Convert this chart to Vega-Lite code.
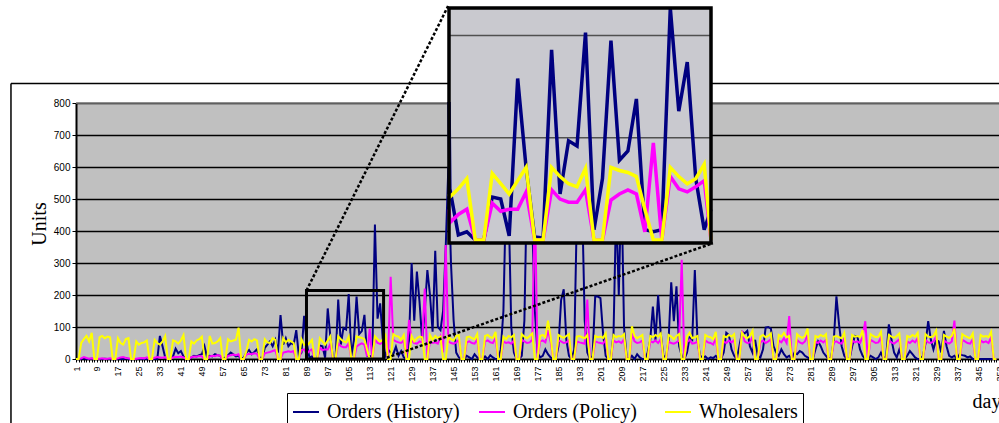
{
"$schema":"https://vega.github.io/schema/vega-lite/v6.json",
"width":923,"height":256,
"autosize":{"type":"none"},
"padding":{"left":76,"top":103,"right":0,"bottom":64},
"background":"white",
"config":{"view":{"fill":"#c0c0c0","stroke":null},
 "legend":{"labelFont":"Liberation Serif","labelFontSize":20,"labelColor":"black"},
 "axisX":{"labelExpr":"(datum.value - 1) % 8 === 0 ? datum.label : ''","labelAngle":-90,"labelFontSize":9,"labelFont":"Liberation Sans","labelColor":"black","labelPadding":4,"labelOverlap":false,"labelBound":false,"labelFlush":false,"tickSize":3,"tickColor":"black","tickWidth":1,"domainColor":"black","domainWidth":1.5,"grid":false,"titleFont":"Liberation Serif","titleFontSize":20,"titleFontWeight":"normal","titleColor":"black","titleX":896,"titleY":48,"titleAlign":"left","titleBaseline":"alphabetic","titleAngle":0},
 "axisY":{"labelFontSize":10,"labelFont":"Liberation Sans","labelColor":"black","labelPadding":2,"labelOverlap":false,"tickSize":4,"tickColor":"black","domainColor":"black","domainWidth":2,"grid":true,"gridColor":"black","gridWidth":1.3,"titleFont":"Liberation Serif","titleFontSize":20,"titleFontWeight":"normal","titleColor":"black","titleX":-36.5,"titleY":120.5,"titleAngle":-90,"titleAlign":"center","titleBaseline":"middle"}},
"datasets":{"days":[
{"d":1,"h":0,"p":0,"w":0},{"d":2,"h":0,"p":0,"w":0},{"d":3,"h":0,"p":2,"w":50},{"d":4,"h":2,"p":6,"w":62},{"d":5,"h":0,"p":3,"w":72},{"d":6,"h":0,"p":1,"w":55},{"d":7,"h":1,"p":2,"w":82},{"d":8,"h":0,"p":0,"w":0},{"d":9,"h":0,"p":0,"w":0},{"d":10,"h":0,"p":1,"w":68},
{"d":11,"h":0,"p":2,"w":72},{"d":12,"h":1,"p":0,"w":65},{"d":13,"h":0,"p":1,"w":70},{"d":14,"h":0,"p":2,"w":68},{"d":15,"h":0,"p":0,"w":0},{"d":16,"h":0,"p":0,"w":0},{"d":17,"h":0,"p":2,"w":65},{"d":18,"h":0,"p":5,"w":50},{"d":19,"h":0,"p":6,"w":45},{"d":20,"h":2,"p":3,"w":62},
{"d":21,"h":0,"p":2,"w":65},{"d":22,"h":0,"p":0,"w":0},{"d":23,"h":0,"p":0,"w":0},{"d":24,"h":0,"p":1,"w":55},{"d":25,"h":0,"p":2,"w":45},{"d":26,"h":0,"p":3,"w":50},{"d":27,"h":1,"p":2,"w":52},{"d":28,"h":0,"p":5,"w":58},{"d":29,"h":0,"p":0,"w":0},{"d":30,"h":0,"p":0,"w":0},
{"d":31,"h":0,"p":4,"w":60},{"d":32,"h":0,"p":6,"w":50},{"d":33,"h":72,"p":5,"w":45},{"d":34,"h":40,"p":4,"w":55},{"d":35,"h":5,"p":6,"w":72},{"d":36,"h":0,"p":0,"w":0},{"d":37,"h":0,"p":0,"w":0},{"d":38,"h":8,"p":5,"w":58},{"d":39,"h":32,"p":7,"w":55},{"d":40,"h":18,"p":6,"w":48},
{"d":41,"h":25,"p":8,"w":58},{"d":42,"h":8,"p":5,"w":75},{"d":43,"h":0,"p":0,"w":0},{"d":44,"h":0,"p":0,"w":0},{"d":45,"h":5,"p":6,"w":55},{"d":46,"h":10,"p":8,"w":48},{"d":47,"h":8,"p":7,"w":58},{"d":48,"h":12,"p":9,"w":62},{"d":49,"h":15,"p":8,"w":70},{"d":50,"h":40,"p":0,"w":0},
{"d":51,"h":5,"p":0,"w":0},{"d":52,"h":10,"p":8,"w":72},{"d":53,"h":8,"p":10,"w":48},{"d":54,"h":15,"p":9,"w":50},{"d":55,"h":12,"p":12,"w":55},{"d":56,"h":10,"p":10,"w":65},{"d":57,"h":0,"p":0,"w":0},{"d":58,"h":5,"p":0,"w":0},{"d":59,"h":12,"p":10,"w":62},{"d":60,"h":20,"p":12,"w":55},
{"d":61,"h":15,"p":14,"w":58},{"d":62,"h":8,"p":12,"w":60},{"d":63,"h":10,"p":15,"w":98},{"d":64,"h":0,"p":0,"w":0},{"d":65,"h":5,"p":0,"w":0},{"d":66,"h":20,"p":14,"w":25},{"d":67,"h":28,"p":16,"w":60},{"d":68,"h":15,"p":15,"w":55},{"d":69,"h":22,"p":18,"w":62},{"d":70,"h":30,"p":16,"w":58},
{"d":71,"h":5,"p":0,"w":0},{"d":72,"h":0,"p":0,"w":0},{"d":73,"h":35,"p":18,"w":62},{"d":74,"h":45,"p":20,"w":52},{"d":75,"h":55,"p":22,"w":50},{"d":76,"h":40,"p":25,"w":65},{"d":77,"h":60,"p":28,"w":60},{"d":78,"h":20,"p":0,"w":0},{"d":79,"h":137,"p":0,"w":0},{"d":80,"h":45,"p":20,"w":65},
{"d":81,"h":65,"p":22,"w":52},{"d":82,"h":40,"p":24,"w":60},{"d":83,"h":50,"p":22,"w":55},{"d":84,"h":45,"p":25,"w":50},{"d":85,"h":90,"p":0,"w":0},{"d":86,"h":10,"p":0,"w":0},{"d":87,"h":20,"p":28,"w":62},{"d":88,"h":135,"p":30,"w":45},{"d":89,"h":50,"p":17,"w":42},{"d":90,"h":5,"p":25,"w":50},
{"d":91,"h":8,"p":30,"w":60},{"d":92,"h":0,"p":0,"w":0},{"d":93,"h":0,"p":0,"w":0},{"d":94,"h":42,"p":36,"w":65},{"d":95,"h":40,"p":28,"w":55},{"d":96,"h":4,"p":30,"w":45},{"d":97,"h":158,"p":30,"w":58},{"d":98,"h":70,"p":47,"w":71},{"d":99,"h":3,"p":0,"w":0},{"d":100,"h":2,"p":0,"w":0},
{"d":101,"h":186,"p":49,"w":71},{"d":102,"h":45,"p":40,"w":62},{"d":103,"h":97,"p":37,"w":55},{"d":104,"h":92,"p":37,"w":52},{"d":105,"h":203,"p":49,"w":70},{"d":106,"h":10,"p":0,"w":0},{"d":107,"h":60,"p":0,"w":0},{"d":108,"h":195,"p":39,"w":71},{"d":109,"h":78,"p":45,"w":68},{"d":110,"h":87,"p":49,"w":66},
{"d":111,"h":138,"p":45,"w":62},{"d":112,"h":10,"p":8,"w":30},{"d":113,"h":8,"p":95,"w":0},{"d":114,"h":10,"p":0,"w":0},{"d":115,"h":420,"p":62,"w":71},{"d":116,"h":126,"p":50,"w":62},{"d":117,"h":174,"p":47,"w":55},{"d":118,"h":60,"p":52,"w":60},{"d":119,"h":10,"p":58,"w":74},{"d":120,"h":30,"p":0,"w":0},
{"d":121,"h":20,"p":257,"w":0},{"d":122,"h":15,"p":60,"w":78},{"d":123,"h":38,"p":55,"w":72},{"d":124,"h":10,"p":52,"w":70},{"d":125,"h":25,"p":50,"w":60},{"d":126,"h":5,"p":58,"w":75},{"d":127,"h":0,"p":0,"w":0},{"d":128,"h":60,"p":122,"w":0},{"d":129,"h":300,"p":58,"w":72},{"d":130,"h":120,"p":50,"w":55},
{"d":131,"h":273,"p":48,"w":65},{"d":132,"h":180,"p":55,"w":70},{"d":133,"h":60,"p":52,"w":68},{"d":134,"h":150,"p":220,"w":0},{"d":135,"h":278,"p":0,"w":0},{"d":136,"h":200,"p":55,"w":75},{"d":137,"h":85,"p":50,"w":60},{"d":138,"h":338,"p":52,"w":72},{"d":139,"h":100,"p":48,"w":65},{"d":140,"h":90,"p":70,"w":70},
{"d":141,"h":150,"p":20,"w":0},{"d":142,"h":350,"p":356,"w":0},{"d":143,"h":600,"p":55,"w":70},{"d":144,"h":300,"p":50,"w":62},{"d":145,"h":122,"p":48,"w":58},{"d":146,"h":20,"p":52,"w":72},{"d":147,"h":5,"p":60,"w":74},{"d":148,"h":0,"p":0,"w":0},{"d":149,"h":0,"p":0,"w":0},{"d":150,"h":10,"p":52,"w":68},
{"d":151,"h":5,"p":55,"w":70},{"d":152,"h":0,"p":50,"w":65},{"d":153,"h":15,"p":48,"w":62},{"d":154,"h":5,"p":62,"w":78},{"d":155,"h":0,"p":0,"w":0},{"d":156,"h":0,"p":0,"w":0},{"d":157,"h":8,"p":55,"w":72},{"d":158,"h":0,"p":58,"w":75},{"d":159,"h":12,"p":52,"w":68},{"d":160,"h":5,"p":50,"w":66},
{"d":161,"h":0,"p":65,"w":85},{"d":162,"h":0,"p":0,"w":0},{"d":163,"h":30,"p":0,"w":0},{"d":164,"h":150,"p":55,"w":70},{"d":165,"h":520,"p":50,"w":62},{"d":166,"h":480,"p":52,"w":72},{"d":167,"h":100,"p":48,"w":68},{"d":168,"h":20,"p":58,"w":75},{"d":169,"h":0,"p":0,"w":0},{"d":170,"h":0,"p":0,"w":0},
{"d":171,"h":10,"p":60,"w":78},{"d":172,"h":120,"p":55,"w":70},{"d":173,"h":560,"p":50,"w":65},{"d":174,"h":600,"p":52,"w":72},{"d":175,"h":420,"p":60,"w":80},{"d":176,"h":150,"p":510,"w":0},{"d":177,"h":20,"p":0,"w":0},{"d":178,"h":5,"p":55,"w":72},{"d":179,"h":10,"p":58,"w":75},{"d":180,"h":30,"p":52,"w":68},
{"d":181,"h":15,"p":90,"w":120},{"d":182,"h":5,"p":55,"w":70},{"d":183,"h":0,"p":0,"w":0},{"d":184,"h":0,"p":0,"w":0},{"d":185,"h":40,"p":58,"w":75},{"d":186,"h":184,"p":55,"w":70},{"d":187,"h":218,"p":50,"w":66},{"d":188,"h":60,"p":52,"w":72},{"d":189,"h":10,"p":60,"w":78},{"d":190,"h":0,"p":0,"w":0},
{"d":191,"h":30,"p":0,"w":0},{"d":192,"h":450,"p":55,"w":70},{"d":193,"h":580,"p":52,"w":72},{"d":194,"h":500,"p":50,"w":68},{"d":195,"h":120,"p":48,"w":65},{"d":196,"h":20,"p":186,"w":75},{"d":197,"h":0,"p":0,"w":0},{"d":198,"h":10,"p":0,"w":0},{"d":199,"h":195,"p":55,"w":72},{"d":200,"h":195,"p":52,"w":68},
{"d":201,"h":190,"p":50,"w":70},{"d":202,"h":80,"p":48,"w":66},{"d":203,"h":10,"p":60,"w":80},{"d":204,"h":0,"p":0,"w":0},{"d":205,"h":0,"p":0,"w":0},{"d":206,"h":80,"p":58,"w":75},{"d":207,"h":480,"p":52,"w":68},{"d":208,"h":200,"p":55,"w":72},{"d":209,"h":550,"p":50,"w":70},{"d":210,"h":100,"p":62,"w":78},
{"d":211,"h":5,"p":0,"w":0},{"d":212,"h":0,"p":0,"w":0},{"d":213,"h":10,"p":80,"w":102},{"d":214,"h":0,"p":55,"w":72},{"d":215,"h":15,"p":50,"w":65},{"d":216,"h":5,"p":52,"w":70},{"d":217,"h":0,"p":58,"w":75},{"d":218,"h":0,"p":0,"w":0},{"d":219,"h":20,"p":0,"w":0},{"d":220,"h":60,"p":55,"w":72},
{"d":221,"h":164,"p":52,"w":68},{"d":222,"h":60,"p":58,"w":75},{"d":223,"h":200,"p":50,"w":70},{"d":224,"h":80,"p":62,"w":80},{"d":225,"h":10,"p":0,"w":0},{"d":226,"h":5,"p":0,"w":0},{"d":227,"h":60,"p":55,"w":75},{"d":228,"h":240,"p":50,"w":70},{"d":229,"h":118,"p":48,"w":62},{"d":230,"h":227,"p":52,"w":72},
{"d":231,"h":40,"p":58,"w":78},{"d":232,"h":10,"p":310,"w":0},{"d":233,"h":0,"p":0,"w":0},{"d":234,"h":20,"p":52,"w":70},{"d":235,"h":67,"p":60,"w":82},{"d":236,"h":60,"p":48,"w":65},{"d":237,"h":278,"p":50,"w":68},{"d":238,"h":60,"p":55,"w":72},{"d":239,"h":10,"p":0,"w":0},{"d":240,"h":5,"p":0,"w":0},
{"d":241,"h":8,"p":58,"w":75},{"d":242,"h":0,"p":52,"w":70},{"d":243,"h":5,"p":50,"w":68},{"d":244,"h":3,"p":45,"w":62},{"d":245,"h":10,"p":65,"w":85},{"d":246,"h":0,"p":0,"w":0},{"d":247,"h":0,"p":0,"w":0},{"d":248,"h":20,"p":55,"w":72},{"d":249,"h":82,"p":50,"w":68},{"d":250,"h":75,"p":58,"w":75},
{"d":251,"h":30,"p":52,"w":70},{"d":252,"h":10,"p":60,"w":78},{"d":253,"h":0,"p":0,"w":0},{"d":254,"h":40,"p":0,"w":0},{"d":255,"h":85,"p":88,"w":82},{"d":256,"h":80,"p":55,"w":70},{"d":257,"h":88,"p":50,"w":65},{"d":258,"h":40,"p":52,"w":72},{"d":259,"h":20,"p":70,"w":88},{"d":260,"h":60,"p":0,"w":0},
{"d":261,"h":10,"p":0,"w":0},{"d":262,"h":5,"p":52,"w":70},{"d":263,"h":30,"p":58,"w":75},{"d":264,"h":98,"p":50,"w":68},{"d":265,"h":100,"p":55,"w":72},{"d":266,"h":95,"p":62,"w":80},{"d":267,"h":40,"p":0,"w":0},{"d":268,"h":20,"p":0,"w":0},{"d":269,"h":10,"p":58,"w":75},{"d":270,"h":30,"p":52,"w":70},
{"d":271,"h":15,"p":65,"w":82},{"d":272,"h":5,"p":50,"w":68},{"d":273,"h":10,"p":134,"w":72},{"d":274,"h":0,"p":0,"w":0},{"d":275,"h":20,"p":0,"w":0},{"d":276,"h":15,"p":60,"w":78},{"d":277,"h":25,"p":52,"w":70},{"d":278,"h":20,"p":48,"w":66},{"d":279,"h":10,"p":55,"w":72},{"d":280,"h":5,"p":75,"w":95},
{"d":281,"h":0,"p":0,"w":0},{"d":282,"h":0,"p":0,"w":0},{"d":283,"h":30,"p":55,"w":72},{"d":284,"h":55,"p":50,"w":68},{"d":285,"h":40,"p":58,"w":75},{"d":286,"h":20,"p":52,"w":70},{"d":287,"h":10,"p":60,"w":78},{"d":288,"h":0,"p":0,"w":0},{"d":289,"h":5,"p":0,"w":0},{"d":290,"h":60,"p":52,"w":70},
{"d":291,"h":196,"p":55,"w":72},{"d":292,"h":108,"p":50,"w":68},{"d":293,"h":40,"p":48,"w":65},{"d":294,"h":10,"p":65,"w":82},{"d":295,"h":0,"p":0,"w":0},{"d":296,"h":0,"p":0,"w":0},{"d":297,"h":40,"p":58,"w":75},{"d":298,"h":72,"p":52,"w":70},{"d":299,"h":70,"p":55,"w":72},{"d":300,"h":30,"p":50,"w":68},
{"d":301,"h":10,"p":70,"w":90},{"d":302,"h":0,"p":118,"w":0},{"d":303,"h":0,"p":0,"w":0},{"d":304,"h":10,"p":60,"w":78},{"d":305,"h":5,"p":55,"w":72},{"d":306,"h":0,"p":50,"w":68},{"d":307,"h":5,"p":52,"w":70},{"d":308,"h":20,"p":68,"w":85},{"d":309,"h":0,"p":0,"w":0},{"d":310,"h":10,"p":0,"w":0},
{"d":311,"h":108,"p":58,"w":75},{"d":312,"h":60,"p":52,"w":70},{"d":313,"h":20,"p":48,"w":66},{"d":314,"h":5,"p":55,"w":72},{"d":315,"h":30,"p":62,"w":80},{"d":316,"h":0,"p":0,"w":0},{"d":317,"h":0,"p":0,"w":0},{"d":318,"h":10,"p":55,"w":72},{"d":319,"h":25,"p":50,"w":68},{"d":320,"h":15,"p":58,"w":75},
{"d":321,"h":5,"p":52,"w":70},{"d":322,"h":0,"p":65,"w":82},{"d":323,"h":0,"p":0,"w":0},{"d":324,"h":10,"p":0,"w":0},{"d":325,"h":50,"p":60,"w":78},{"d":326,"h":118,"p":52,"w":70},{"d":327,"h":60,"p":50,"w":68},{"d":328,"h":30,"p":55,"w":72},{"d":329,"h":60,"p":70,"w":88},{"d":330,"h":55,"p":0,"w":0},
{"d":331,"h":20,"p":0,"w":0},{"d":332,"h":88,"p":58,"w":75},{"d":333,"h":40,"p":52,"w":70},{"d":334,"h":10,"p":48,"w":66},{"d":335,"h":5,"p":55,"w":72},{"d":336,"h":10,"p":120,"w":95},{"d":337,"h":0,"p":0,"w":0},{"d":338,"h":15,"p":0,"w":0},{"d":339,"h":12,"p":60,"w":78},{"d":340,"h":10,"p":55,"w":72},
{"d":341,"h":5,"p":50,"w":68},{"d":342,"h":8,"p":48,"w":65},{"d":343,"h":0,"p":62,"w":80},{"d":344,"h":0,"p":0,"w":0},{"d":345,"h":0,"p":0,"w":0},{"d":346,"h":0,"p":58,"w":75},{"d":347,"h":0,"p":52,"w":70},{"d":348,"h":0,"p":55,"w":72},{"d":349,"h":0,"p":50,"w":68},{"d":350,"h":0,"p":68,"w":85},
{"d":351,"h":0,"p":0,"w":0},{"d":352,"h":0,"p":0,"w":0}
]},
"layer":[
{"layer":[
 {"data":{"name":"days"},
  "transform":[{"fold":["h","p","w"],"as":["s","v"]}],
  "mark":{"type":"line","strokeWidth":2},
  "encoding":{
   "x":{"field":"d","type":"quantitative","scale":{"domain":[1,353],"nice":false,"zero":false},"axis":{"title":"day","tickCount":400}},
   "y":{"field":"v","type":"quantitative","scale":{"domain":[0,800],"nice":false,"zero":false},"axis":{"title":"Units","values":[0,100,200,300,400,500,600,700,800],"tickCount":20}},
   "color":{"field":"s","type":"nominal","scale":{"domain":["h","p","w"],"range":["#000080","#ff00ff","#ffff00"]},
    "legend":{"title":null,"orient":"none","legendX":211,"legendY":290,"direction":"horizontal","columns":3,"gridAlign":"all","symbolType":"stroke","symbolSize":676,"symbolStrokeWidth":2,"labelFont":"Liberation Serif","labelFontSize":20,"labelColor":"black","labelOffset":7,"columnPadding":15,"padding":5,"strokeColor":"black","fillColor":"white","labelLimit":300,
     "labelExpr":"datum.label == 'h' ? 'Orders (History)' : datum.label == 'p' ? 'Orders (Policy)' : 'Wholesalers'"}}
  }},
 {"data":{"values":[{}]},"mark":{"type":"rule","color":"#7f7f7f","strokeWidth":1.3},
  "encoding":{"x":{"datum":1,"type":"quantitative","axis":{"title":"day","tickCount":400}},"x2":{"datum":353},"y":{"datum":800,"type":"quantitative","axis":{"title":"Units","values":[0,100,200,300,400,500,600,700,800],"tickCount":20}}}},
 {"data":{"values":[{}]},"mark":{"type":"rect","fillOpacity":0,"stroke":"black","strokeWidth":3},
  "encoding":{"x":{"datum":88.9,"type":"quantitative","axis":{"title":"day","tickCount":400}},"x2":{"datum":118.3},"y":{"datum":214,"type":"quantitative","axis":{"title":"Units","values":[0,100,200,300,400,500,600,700,800],"tickCount":20}},"y2":{"datum":0}}},
 {"data":{"values":[{}]},"mark":{"type":"rule","color":"black","strokeWidth":2.5,"strokeDash":[3,2]},
  "encoding":{"x":{"datum":88.9,"type":"quantitative","axis":{"title":"day","tickCount":400}},"y":{"datum":214,"type":"quantitative","axis":{"title":"Units","values":[0,100,200,300,400,500,600,700,800],"tickCount":20}},"x2":{"datum":142.9},"y2":{"datum":1103}}},
 {"data":{"values":[{}]},"mark":{"type":"rule","color":"black","strokeWidth":2.5,"strokeDash":[3,2]},
  "encoding":{"x":{"datum":119.5,"type":"quantitative","axis":{"title":"day","tickCount":400}},"y":{"datum":4,"type":"quantitative","axis":{"title":"Units","values":[0,100,200,300,400,500,600,700,800],"tickCount":20}},"x2":{"datum":243.9},"y2":{"datum":362}}},
 {"data":{"values":[{}]},"mark":{"type":"rule","color":"black","strokeWidth":1.5},
  "encoding":{"x":{"datum":-23.8,"type":"quantitative","axis":{"title":"day","tickCount":400}},"y":{"datum":861,"type":"quantitative","axis":{"title":"Units","values":[0,100,200,300,400,500,600,700,800],"tickCount":20}},"x2":{"datum":700},"y2":{"datum":861}}},
 {"data":{"values":[{}]},"mark":{"type":"rule","color":"black","strokeWidth":1.5},
  "encoding":{"x":{"datum":-23.8,"type":"quantitative","axis":{"title":"day","tickCount":400}},"y":{"datum":861,"type":"quantitative","axis":{"title":"Units","values":[0,100,200,300,400,500,600,700,800],"tickCount":20}},"x2":{"datum":-23.8},"y2":{"datum":-400}}}
]},
{"layer":[
 {"data":{"values":[{}]},"mark":{"type":"rect","fill":"#c9c9cf"},
  "encoding":{"x":{"datum":88.9,"type":"quantitative","scale":{"domain":[88.9,119.8],"range":[373,635],"clamp":true,"nice":false,"zero":false},"axis":null},"x2":{"datum":119.8},
   "y":{"datum":-3,"type":"quantitative","scale":{"domain":[-3,227],"range":[140,-95],"clamp":true,"nice":false,"zero":false},"axis":null},"y2":{"datum":227}}},
 {"data":{"values":[{}]},"mark":{"type":"rule","color":"#505050","strokeWidth":1.5},
  "encoding":{"x":{"datum":88.9,"type":"quantitative","scale":{"domain":[88.9,119.8],"range":[373,635],"clamp":true,"nice":false,"zero":false},"axis":null},"x2":{"datum":119.8},
   "y":{"datum":100,"type":"quantitative","scale":{"domain":[-3,227],"range":[140,-95],"clamp":true,"nice":false,"zero":false},"axis":null}}},
 {"data":{"values":[{}]},"mark":{"type":"rule","color":"#505050","strokeWidth":1.5},
  "encoding":{"x":{"datum":88.9,"type":"quantitative","scale":{"domain":[88.9,119.8],"range":[373,635],"clamp":true,"nice":false,"zero":false},"axis":null},"x2":{"datum":119.8},
   "y":{"datum":200,"type":"quantitative","scale":{"domain":[-3,227],"range":[140,-95],"clamp":true,"nice":false,"zero":false},"axis":null}}},
 {"data":{"name":"days"},
  "transform":[{"filter":"datum.d >= 88 && datum.d <= 120"},{"fold":["h","p","w"],"as":["s","v"]}],
  "mark":{"type":"line","strokeWidth":3.5},
  "encoding":{
   "x":{"field":"d","type":"quantitative","scale":{"domain":[88.9,119.8],"range":[373,635],"clamp":true,"nice":false,"zero":false},"axis":null},
   "y":{"field":"v","type":"quantitative","scale":{"domain":[-3,227],"range":[140,-95],"clamp":true,"nice":false,"zero":false},"axis":null},
   "color":{"field":"s","type":"nominal","scale":{"domain":["h","p","w"],"range":["#000080","#ff00ff","#ffff00"]},
    "legend":{"title":null,"orient":"none","legendX":211,"legendY":290,"direction":"horizontal","columns":3,"gridAlign":"all","symbolType":"stroke","symbolSize":676,"symbolStrokeWidth":2,"labelFont":"Liberation Serif","labelFontSize":20,"labelColor":"black","labelOffset":7,"columnPadding":15,"padding":5,"strokeColor":"black","fillColor":"white","labelLimit":300,
     "labelExpr":"datum.label == 'h' ? 'Orders (History)' : datum.label == 'p' ? 'Orders (Policy)' : 'Wholesalers'"}}
  }},
 {"data":{"values":[{}]},"mark":{"type":"rect","fillOpacity":0,"stroke":"black","strokeWidth":3.5},
  "encoding":{"x":{"datum":88.9,"type":"quantitative","scale":{"domain":[88.9,119.8],"range":[373,635],"clamp":true,"nice":false,"zero":false},"axis":null},"x2":{"datum":119.8},
   "y":{"datum":-3,"type":"quantitative","scale":{"domain":[-3,227],"range":[140,-95],"clamp":true,"nice":false,"zero":false},"axis":null},"y2":{"datum":227}}}
]}
],
"resolve":{"scale":{"x":"independent","y":"independent"}}
}
